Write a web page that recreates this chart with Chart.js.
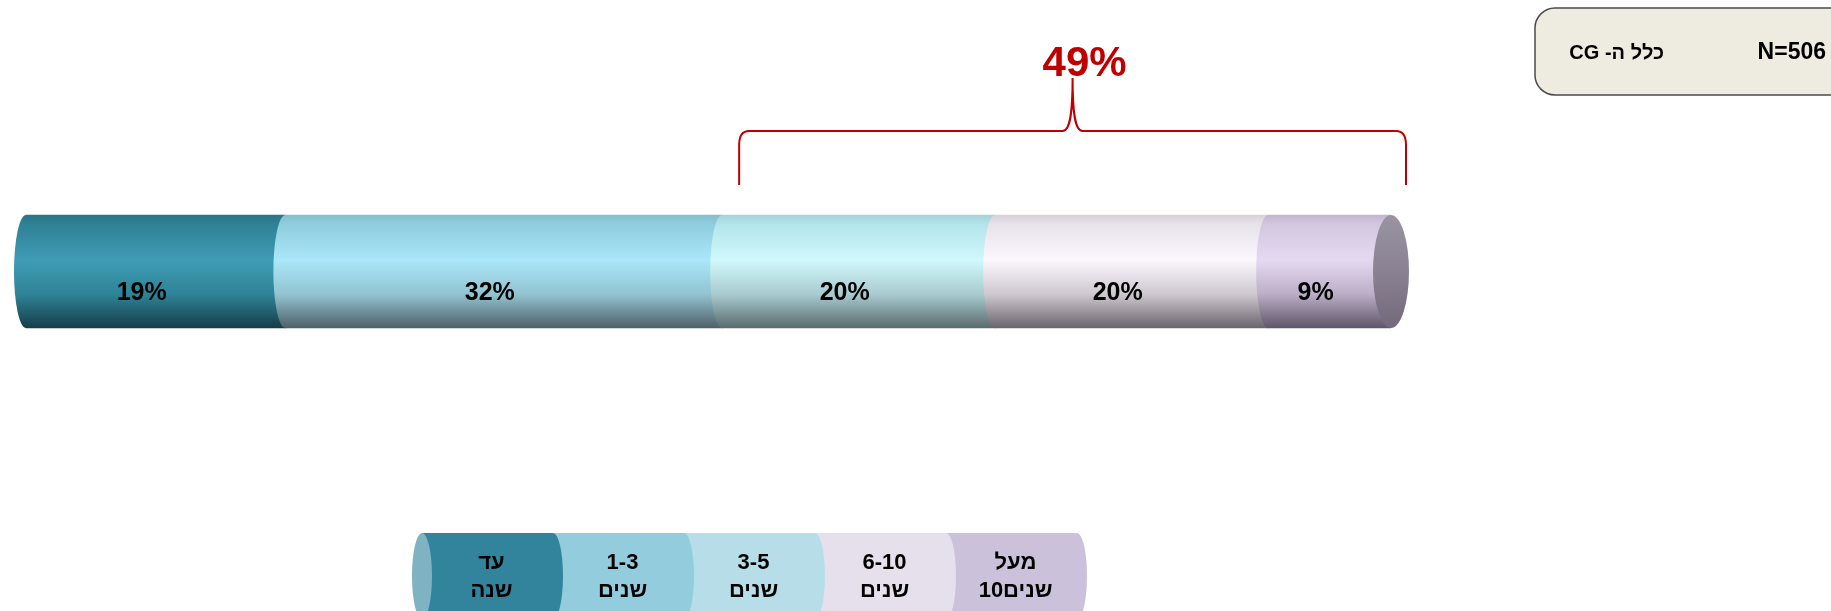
<!DOCTYPE html>
<html lang="he">
<head>
<meta charset="utf-8">
<title>ותק</title>
<script src="https://cdn.jsdelivr.net/npm/chart.js@4.4.1/dist/chart.umd.min.js"></script>
<style>
  html, body { margin: 0; padding: 0; background: #ffffff; }
  #wrap { width: 1831px; height: 611px; position: relative; }
</style>
</head>
<body>
<div id="wrap"><canvas id="chart" dir="ltr"></canvas></div>
<script>
// נתונים
const categories = ['עד שנה', '1-3 שנים', '3-5 שנים', '6-10 שנים', 'מעל 10שנים'];
const values = [19, 32, 20, 20, 9];
const groupFrom = 2;               // הסוגריים מעל שלוש הקבוצות האחרונות
const sampleLabel = 'N=506';
const groupName = 'כלל ה- CG';

// צבעים (גרדיאנט אנכי לכל מקטע, כדי לתת מראה של גליל)
const barShades = [
  [[0, '#2A7487'], [0.08, '#2F8195'], [0.4, '#3E9CB4'], [0.7, '#2F8397'], [1, '#163E49']],
  [[0, '#86BFCE'], [0.08, '#8FCDDD'], [0.4, '#A9E7F9'], [0.7, '#93C3D1'], [1, '#4E6169']],
  [[0, '#A5D3D8'], [0.08, '#B2E5EA'], [0.4, '#D0F8FC'], [0.7, '#A9CBCF'], [1, '#5A6B6D']],
  [[0, '#D7D1DA'], [0.08, '#E8E2EB'], [0.4, '#FCF6FD'], [0.7, '#CFC8D1'], [1, '#6A646C']],
  [[0, '#C2B6CF'], [0.08, '#D3C7E0'], [0.4, '#E5D9F2'], [0.7, '#BBAEC6'], [1, '#5F566A']]
];
const capShade = [[0, '#9A93A2'], [0.5, '#8A8292'], [1, '#726A7A']];
const legendColors = ['#31849B', '#93CDDD', '#B7DEE8', '#E5E0EC', '#CCC1DA'];

const BAR_H = 113;
const RX = 12;
const FONT = '"Liberation Sans", Arial, sans-serif';

function grad(ctx, top, bottom, stops) {
  const g = ctx.createLinearGradient(0, top, 0, bottom);
  stops.forEach(s => g.addColorStop(s[0], s[1]));
  return g;
}

// מספרים וטקסט עברי נכתבים בנפרד (מספר משמאל) כדי לא להיות תלוי ב-bidi של הקנבס
function fillMixed(ctx, text, cx, y) {
  const parts = text.match(/\d+|\D+/g);
  if (parts.length < 2) { ctx.fillText(text, cx, y); return; }
  const widths = parts.map(p => ctx.measureText(p).width);
  let x = cx - widths.reduce((a, b) => a + b, 0) / 2;
  ctx.textAlign = 'left';
  parts.forEach((p, k) => { ctx.fillText(p, x, y); x += widths[k]; });
  ctx.textAlign = 'center';
}

// קצוות מעוגלים, תוויות, סוגריים ומקרא
const cylinderPlugin = {
  id: 'cylinder',
  afterDatasetsDraw(chart) {
    const ctx = chart.ctx;
    const n = chart.data.datasets.length;
    ctx.save();
    for (let i = 0; i < n; i++) {
      const bar = chart.getDatasetMeta(i).data[0];
      const h = bar.height / 2;
      ctx.beginPath();
      ctx.ellipse(bar.base, bar.y, RX, h, 0, Math.PI / 2, Math.PI * 1.5);
      ctx.lineTo(bar.base + 2, bar.y - h);
      ctx.lineTo(bar.base + 2, bar.y + h);
      ctx.closePath();
      ctx.fillStyle = grad(ctx, bar.y - h, bar.y + h, barShades[i]);
      ctx.fill();
    }
    // מכסה בצד ימין
    const last = chart.getDatasetMeta(n - 1).data[0];
    const lh = last.height / 2;
    ctx.beginPath();
    ctx.ellipse(last.x, last.y, 18, lh, 0, 0, Math.PI * 2);
    ctx.fillStyle = grad(ctx, last.y - lh, last.y + lh, capShade);
    ctx.fill();

    // תוויות אחוזים
    ctx.fillStyle = '#000000';
    ctx.font = 'bold 25px ' + FONT;
    ctx.textAlign = 'center';
    ctx.textBaseline = 'middle';
    for (let i = 0; i < n; i++) {
      const bar = chart.getDatasetMeta(i).data[0];
      const v = chart.data.datasets[i].data[0];
      ctx.fillText(v + '%', (bar.base + bar.x) / 2 - RX - 2, bar.y + 22);
    }
    ctx.restore();
  },
  afterDraw(chart) {
    const ctx = chart.ctx;
    const xs = chart.scales.x;
    ctx.save();

    // סוגריים מעל 49%
    const startVal = values.slice(0, groupFrom).reduce((a, b) => a + b, 0);
    const groupVal = values.slice(groupFrom).reduce((a, b) => a + b, 0);
    const left = xs.getPixelForValue(startVal) + 17;
    const right = xs.getPixelForValue(100) + 15;
    const mid = (left + right) / 2;
    const yTip = 185, yLine = 131, yPeak = 78;
    ctx.strokeStyle = '#C00000';
    ctx.lineWidth = 2;
    ctx.beginPath();
    ctx.moveTo(left, yTip);
    ctx.lineTo(left, yLine + 14);
    ctx.quadraticCurveTo(left, yLine, left + 10, yLine);
    ctx.lineTo(mid - 10, yLine);
    ctx.bezierCurveTo(mid - 2, yLine, mid, yLine - 20, mid, yPeak);
    ctx.bezierCurveTo(mid, yLine - 20, mid + 2, yLine, mid + 10, yLine);
    ctx.lineTo(right - 10, yLine);
    ctx.quadraticCurveTo(right, yLine, right, yLine + 14);
    ctx.lineTo(right, yTip);
    ctx.stroke();

    ctx.fillStyle = '#C00000';
    ctx.font = 'bold 42px ' + FONT;
    ctx.textAlign = 'center';
    ctx.textBaseline = 'alphabetic';
    ctx.fillText(groupVal + '%', mid + 12, 76);

    // תיבה בפינה
    ctx.beginPath();
    ctx.roundRect(1535, 8, 330, 87, 20);
    ctx.fillStyle = '#EEECE1';
    ctx.fill();
    ctx.strokeStyle = '#4A4A4A';
    ctx.lineWidth = 1.5;
    ctx.stroke();
    ctx.fillStyle = '#000000';
    ctx.textBaseline = 'middle';
    ctx.textAlign = 'right';
    ctx.font = 'bold 23px ' + FONT;
    ctx.fillText(sampleLabel, 1826, 53);
    ctx.font = 'bold 20px ' + FONT;
    ctx.direction = 'rtl';
    ctx.fillText(groupName, 1664, 53);
    ctx.direction = 'ltr';

    // מקרא בצורת גליל
    const ds = chart.data.datasets;
    const LX = 422, LW = 131, LTOP = 533, LH = 86, LRX = 10;
    const lmid = LTOP + LH / 2;
    for (let i = ds.length - 1; i >= 0; i--) {
      const x0 = LX + i * LW, x1 = x0 + LW;
      ctx.beginPath();
      ctx.moveTo(x0, LTOP);
      ctx.lineTo(x1, LTOP);
      ctx.ellipse(x1, lmid, LRX, LH / 2, 0, -Math.PI / 2, Math.PI / 2);
      ctx.lineTo(x0, LTOP + LH);
      ctx.closePath();
      ctx.fillStyle = legendColors[i];
      ctx.fill();
    }
    ctx.beginPath();
    ctx.ellipse(LX, lmid, LRX, LH / 2, 0, 0, Math.PI * 2);
    ctx.fillStyle = '#7FB3C3';
    ctx.fill();

    ctx.fillStyle = '#000000';
    ctx.font = 'bold 22px ' + FONT;
    ctx.textAlign = 'center';
    ctx.textBaseline = 'middle';
    for (let i = 0; i < ds.length; i++) {
      const label = ds[i].label;
      const sp = label.indexOf(' ');
      const cx = LX + i * LW + LW / 2 + 4;
      fillMixed(ctx, label.slice(0, sp), cx, 563);
      fillMixed(ctx, label.slice(sp + 1), cx, 591);
    }
    ctx.restore();
  }
};

const datasets = categories.map((cat, i) => ({
  label: cat,
  data: [values[i]],
  barThickness: BAR_H,
  borderWidth: 0,
  backgroundColor: (c) => {
    const ca = c.chart.chartArea;
    if (!ca) return legendColors[i];
    const yc = (ca.top + ca.bottom) / 2;
    return grad(c.chart.ctx, yc - BAR_H / 2, yc + BAR_H / 2, barShades[i]);
  }
}));

new Chart(document.getElementById('chart'), {
  type: 'bar',
  data: { labels: ['CG'], datasets: datasets },
  options: {
    indexAxis: 'y',
    responsive: true,
    maintainAspectRatio: false,
    animation: false,
    layout: { padding: { left: 26, right: 440, top: 200, bottom: 268 } },
    scales: {
      x: { stacked: true, min: 0, max: 100, display: false },
      y: { stacked: true, display: false }
    },
    plugins: {
      legend: { display: false },
      tooltip: { enabled: false }
    }
  },
  plugins: [cylinderPlugin]
});
</script>
</body>
</html>
